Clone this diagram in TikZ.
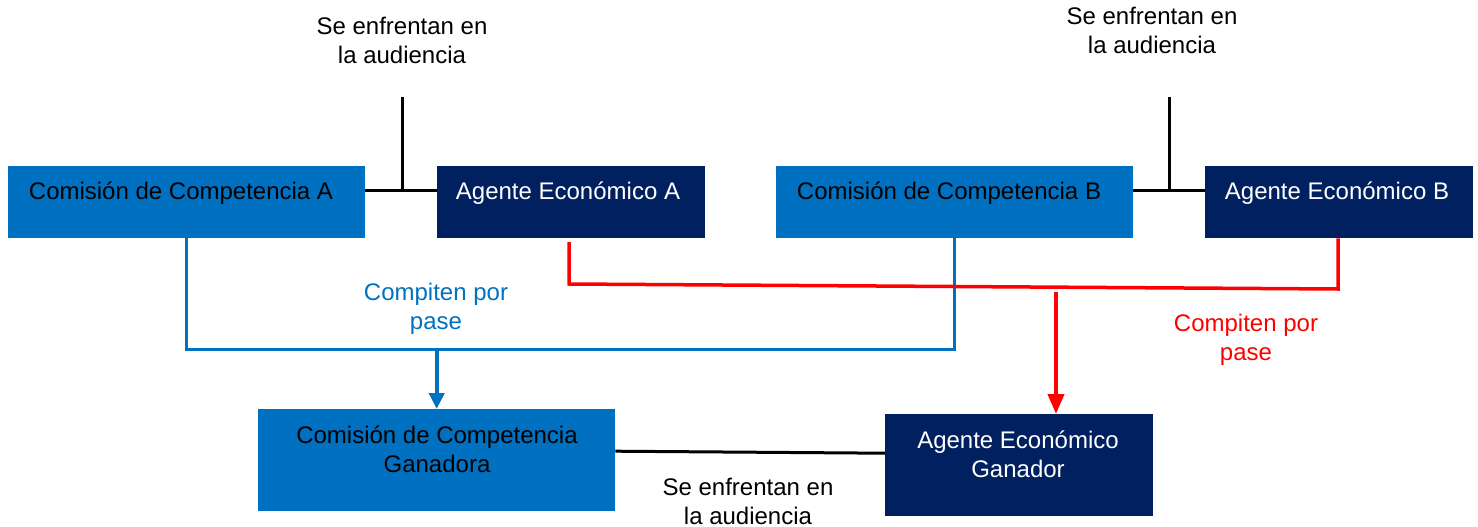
\documentclass[tikz,border=0pt]{standalone}
\usepackage{fontspec}
\setmainfont{Liberation Sans}
\usetikzlibrary{arrows.meta}
\definecolor{boxblue}{HTML}{0070C0}
\definecolor{navy}{HTML}{002060}
\definecolor{redline}{HTML}{FF0000}
\begin{document}
\begin{tikzpicture}[x=1pt,y=-1pt,
  every node/.style={font=\fontsize{24}{29}\selectfont, inner sep=0pt},
  bluebox/.style={fill=boxblue, draw=none, anchor=north west},
  navybox/.style={fill=navy, draw=none, anchor=north west},
  blacktxt/.style={text=black, align=center},
  whitetxt/.style={text=white, align=center},
  blk/.style={draw=black, line width=3pt},
  bln/.style={draw=boxblue, line width=3pt},
  rdl/.style={draw=redline, line width=3.5pt},
  bluearrow/.style={draw=boxblue, line width=4pt, -{Triangle[length=16pt,width=15pt]}},
  redarrow/.style={draw=redline, line width=4pt, -{Triangle[length=20pt,width=16pt]}}
]
\useasboundingbox (0,0) rectangle (1478,527);
% boxes
\node[bluebox, minimum width=357pt, minimum height=72pt] (cca) at (8,166) {};
\node[navybox, minimum width=268pt, minimum height=72pt] (aea) at (437,166) {};
\node[bluebox, minimum width=357pt, minimum height=72pt] (ccb) at (776,166) {};
\node[navybox, minimum width=268pt, minimum height=72pt] (aeb) at (1205,166) {};
\node[bluebox, minimum width=357pt, minimum height=102pt] (ccg) at (258,409) {};
\node[navybox, minimum width=268pt, minimum height=102pt] (aeg) at (885,414) {};
% box texts
\node[blacktxt, anchor=base] (tcca) at (181,199) {Comisión de Competencia A};
\node[whitetxt, anchor=base] (taea) at (568,199) {Agente Económico A};
\node[blacktxt, anchor=base] (tccb) at (949,199) {Comisión de Competencia B};
\node[whitetxt, anchor=base] (taeb) at (1337,199) {Agente Económico B};
\node[blacktxt] (tccg) at (437,449) {Comisión de Competencia\\Ganadora};
\node[whitetxt] (taeg) at (1018,454) {Agente Económico\\Ganador};
% labels
\node[blacktxt] (la) at (402,40) {Se enfrentan en\\la audiencia};
\node[blacktxt] (lb) at (1152,30) {Se enfrentan en\\la audiencia};
\node[text=boxblue, align=center] (lblue) at (436,309) {Compiten por\\pase};
\node[text=redline, align=center] (lred) at (1246,340) {Compiten por\\pase};
\node[blacktxt] (lbot) at (748,501) {Se enfrentan en\\la audiencia};
% black connectors
\coordinate (ta) at (402,97);
\coordinate (tb) at (1169,97);
\coordinate (ccaE) at ([yshift=12pt]cca.east);
\coordinate (aeaW) at ([yshift=12pt]aea.west);
\coordinate (ccbE) at ([yshift=12pt]ccb.east);
\coordinate (aebW) at ([yshift=12pt]aeb.west);
\coordinate (ccgE) at ([yshift=9pt]ccg.east);
\coordinate (aegW) at ([yshift=12pt]aeg.west);
\draw[blk] (ccaE) -- (aeaW);
\draw[blk] (ta) -- (ta |- ccaE);
\draw[blk] (ccbE) -- (aebW);
\draw[blk] (tb) -- (tb |- ccbE);
\draw[blk] (ccgE) -- (aegW);
% blue connector
\coordinate (bl) at (186,349);
\draw[bln] (cca.south) -- (cca.south |- bl) -| (ccb.south);
\draw[bluearrow] (ccg.north |- bl) -- (ccg.north);
% red connector
\coordinate (r1) at (569,242);
\coordinate (r2) at (569,284);
\coordinate (r3) at (1338,289);
\coordinate (ra) at (1056,292);
\draw[rdl] (r1) -- (r2) -- (r3) -- (r3 |- aeb.south);
\draw[redarrow] (ra) -- (ra |- aeg.north);
\end{tikzpicture}
\end{document}
